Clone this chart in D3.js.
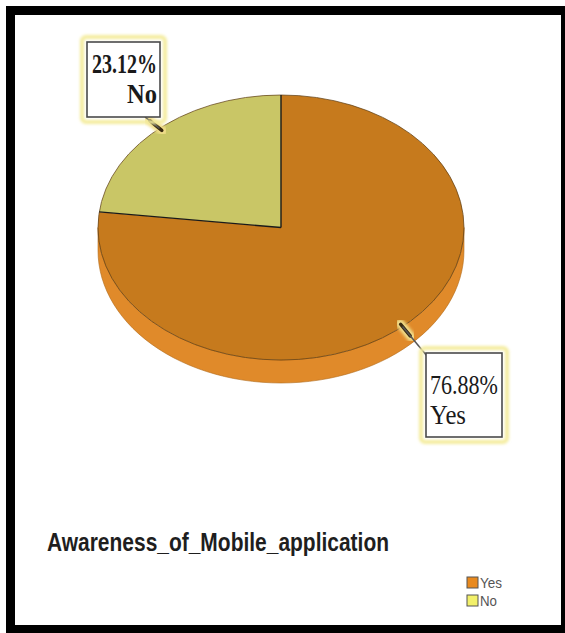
<!DOCTYPE html>
<html><head><meta charset="utf-8">
<script src="https://cdn.jsdelivr.net/npm/d3@7"></script>
<style>html,body{margin:0;padding:0;background:#fff;}svg{display:block;}</style>
</head><body>
<script>
const categories = ["Yes", "No"];
const values = [76.88, 23.12];
const valueLabels = ["76.88%", "23.12%"];
const title = "Awareness_of_Mobile_application";
const topColors = {Yes: "#C67A1D", No: "#C9C666"};
const sideColors = {Yes: "#E08A2A", No: "#D8D478"};
const legendColors = {Yes: "#E8891E", No: "#F2F06A"};

(function () {
const W = 565, H = 633;
const svg = d3.select("body").append("svg").attr("width", W).attr("height", H);
const defs = svg.append("defs");
defs.append("filter").attr("id", "glow").attr("x", "-20%").attr("y", "-20%").attr("width", "140%").attr("height", "140%")
  .append("feGaussianBlur").attr("stdDeviation", 1.6);

// frame
svg.append("rect").attr("x", 0).attr("y", 0).attr("width", W).attr("height", H).attr("fill", "#fff");
svg.append("rect").attr("x", 6).attr("y", 6).attr("width", W - 6).attr("height", H - 6).attr("fill", "#000");
svg.append("rect").attr("x", 15).attr("y", 15).attr("width", 546).attr("height", 610).attr("fill", "#fff");

const cx = 281, cy = 227.5, rx = 183, ry = 132.5, depth = 23;
const data = categories.map((c, i) => ({cat: c, value: values[i], label: valueLabels[i]}));
const pie = d3.pie().value(d => d.value).sort(null).startAngle(0).endAngle(2 * Math.PI);
const arcs = pie(data);
const px = a => cx + rx * Math.sin(a);
const py = a => cy - ry * Math.cos(a);

const g = svg.append("g");
arcs.forEach(a => {
  const s = Math.max(a.startAngle, Math.PI / 2), e = Math.min(a.endAngle, 3 * Math.PI / 2);
  if (e <= s) return;
  const angs = d3.range(0, 61).map(i => s + (e - s) * i / 60);
  const pts = angs.map(t => [px(t), py(t)]).concat(angs.slice().reverse().map(t => [px(t), py(t) + depth]));
  g.append("path").attr("d", d3.line()(pts) + "Z")
    .attr("fill", sideColors[a.data.cat]).attr("stroke", "#b06a1a").attr("stroke-width", 0.6);
});

const arc = d3.arc().innerRadius(0).outerRadius(rx);
const face = g.append("g").attr("transform", `translate(${cx},${cy}) scale(1,${ry / rx})`);
face.selectAll("path").data(arcs).join("path")
  .attr("d", arc)
  .attr("fill", d => topColors[d.data.cat])
  .attr("stroke", "none");
face.append("ellipse").attr("rx", rx).attr("ry", rx).attr("fill", "none")
  .attr("stroke", "#5a3a10").attr("stroke-width", 1).attr("vector-effect", "non-scaling-stroke").attr("opacity", 0.7);
arcs.forEach(a => {
  g.append("line").attr("x1", cx).attr("y1", cy).attr("x2", px(a.startAngle)).attr("y2", py(a.startAngle))
    .attr("stroke", "#1a1a1a").attr("stroke-width", 1.4);
});

const boxes = {
  No: {x: 87, y: 42, w: 73, h: 75, end: [145, 117], align: "end"},
  Yes: {x: 426, y: 353, w: 76, h: 84, end: [427, 356], align: "start"}
};
arcs.forEach(a => {
  const b = boxes[a.data.cat];
  const m = (a.startAngle + a.endAngle) / 2;
  const ax = px(m), ay = py(m);
  const dx = b.end[0] - ax, dy = b.end[1] - ay, len = Math.hypot(dx, dy);
  const ux = dx / len, uy = dy / len;
  g.append("line").attr("x1", ax - ux * 4).attr("y1", ay - uy * 4).attr("x2", ax + ux * 14).attr("y2", ay + uy * 14)
    .attr("stroke", "#F2DE8A").attr("stroke-width", 9).attr("stroke-linecap", "round").attr("filter", "url(#glow)");
  g.append("line").attr("x1", ax - ux * 3).attr("y1", ay - uy * 3).attr("x2", ax + ux * 12).attr("y2", ay + uy * 12)
    .attr("stroke", "#3a2a10").attr("stroke-width", 3.5).attr("stroke-linecap", "round");
  g.append("line").attr("x1", ax).attr("y1", ay).attr("x2", b.end[0]).attr("y2", b.end[1])
    .attr("stroke", "#555").attr("stroke-width", 1.5);
  g.append("rect").attr("x", b.x - 5).attr("y", b.y - 5).attr("width", b.w + 10).attr("height", b.h + 10).attr("rx", 4)
    .attr("fill", "none").attr("stroke", "#F4EC9C").attr("stroke-width", 4).attr("filter", "url(#glow)");
  g.append("rect").attr("x", b.x).attr("y", b.y).attr("width", b.w).attr("height", b.h)
    .attr("fill", "#fff").attr("stroke", "#4a4a4a").attr("stroke-width", 1.6);
  const tx = b.align === "end" ? b.x + b.w - 3 : b.x + 4;
  const lines = [a.data.label, a.data.cat];
  const lens = a.data.cat === "No" ? [65, 30] : [68, 36];
  lines.forEach((t, i) => {
    g.append("text").attr("x", tx).attr("y", b.y + (a.data.cat === "No" ? 31 : 41) + i * 30)
      .attr("text-anchor", b.align)
      .attr("font-family", "Liberation Serif, Times New Roman, serif")
      .attr("font-size", 27).attr("font-weight", a.data.cat === "No" ? "bold" : "normal")
      .attr("fill", "#1a1a1a")
      .attr("textLength", lens[i]).attr("lengthAdjust", "spacingAndGlyphs")
      .text(t);
  });
});

svg.append("text").attr("x", 47).attr("y", 551).attr("font-family", "Liberation Sans, Arial, sans-serif")
  .attr("font-size", 26).attr("font-weight", "bold").attr("fill", "#1e1e1e")
  .attr("textLength", 342).attr("lengthAdjust", "spacingAndGlyphs").text(title);

const leg = svg.append("g");
categories.forEach((c, i) => {
  const y = 577 + i * 18;
  leg.append("rect").attr("x", 467).attr("y", y).attr("width", 11).attr("height", 11)
    .attr("fill", legendColors[c]).attr("stroke", "#555").attr("stroke-width", 1);
  leg.append("text").attr("x", 480).attr("y", y + 10.5).attr("font-family", "Liberation Sans, Arial, sans-serif")
    .attr("font-size", 14).attr("fill", "#555").attr("textLength", c === "Yes" ? 22 : 17)
    .attr("lengthAdjust", "spacingAndGlyphs").text(c);
});
})();
</script>
</body></html>
